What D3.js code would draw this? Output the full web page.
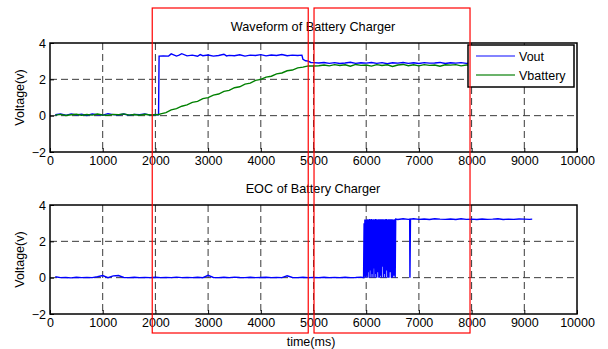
<!DOCTYPE html>
<html>
<head>
<meta charset="utf-8">
<script src="https://cdn.jsdelivr.net/npm/d3@7/dist/d3.min.js"></script>
<style>
  body { margin: 0; background: #fff; }
  svg { display: block; font-family: "Liberation Sans", Arial, sans-serif; }
  .tick text { font-size: 12.5px; fill: #000; }
</style>
</head>
<body>
<div id="chart"></div>
<script>
// ---- data ----
var xTicks = [0, 1000, 2000, 3000, 4000, 5000, 6000, 7000, 8000, 9000, 10000];
var yTicks = [-2, 0, 2, 4];

// top panel: Vout
var voutT = [100,200,300,400,500,600,700,800,900,1000,1100,1200,1300,1400,1500,1600,1700,1800,1900,2000,2060,
  2070,2150,2250,2300,2400,2450,2500,2600,2700,2800,2850,2900,3000,3100,3200,3300,3350,3400,3500,3600,3700,3800,3900,4000,4100,4200,4300,4400,4500,4600,4700,4780,
  4800,4850,4900,4950,5000,5100,5200,5300,5400,5500,5600,5700,5800,5900,6000,6100,6200,6300,6400,6500,6600,6700,6800,6900,7000,7100,7200,7300,7400,7500,7600,7700,7800,7900,8000];
var voutV = [0.05,0.09,0.02,0.10,0.04,0.08,0.01,0.09,0.05,0.03,0.11,0.06,0.04,0.09,0.02,0.07,0.05,0.10,0.03,0.06,0.05,
  3.28,3.29,3.28,3.40,3.28,3.33,3.41,3.29,3.33,3.27,3.36,3.30,3.34,3.28,3.31,3.38,3.29,3.32,3.30,3.35,3.28,3.33,3.31,3.36,3.29,3.34,3.31,3.37,3.30,3.33,3.31,3.33,
  3.10,3.02,3.00,2.93,2.92,2.90,2.93,2.88,2.92,2.87,2.90,2.94,2.88,2.91,2.89,2.93,2.88,2.92,2.86,2.91,2.89,2.93,2.88,2.91,2.87,2.92,2.89,2.90,2.93,2.87,2.91,2.89,2.92,2.88,2.90,2.87];

// top panel: Vbattery
var vbatT = [100,200,300,400,500,600,700,800,900,1000,1100,1200,1300,1400,1500,1600,1700,1800,1900,2000,2050,
  2100,2200,2300,2400,2500,2600,2700,2800,2900,3000,3100,3200,3300,3400,3500,3600,3700,3800,3900,4000,4100,4200,4300,4400,4500,4600,4700,4800,4900,
  5000,5100,5200,5300,5400,5500,5600,5700,5800,5900,6000,6100,6200,6300,6400,6500,6600,6700,6800,6900,7000,7100,7200,7300,7400,7500,7600,7700,7800,7900,8000];
var vbatV = [0.03,0.07,0.01,0.05,0.08,0.02,0.06,0.03,0.09,0.04,0.02,0.07,0.05,0.10,0.03,0.06,0.02,0.08,0.04,0.05,0.05,
  0.10,0.17,0.32,0.39,0.52,0.59,0.73,0.79,0.94,0.99,1.13,1.19,1.34,1.39,1.54,1.59,1.74,1.79,1.94,2.00,2.12,2.17,2.30,2.35,2.47,2.51,2.63,2.67,2.74,
  2.73,2.75,2.79,2.74,2.81,2.76,2.80,2.72,2.82,2.77,2.79,2.73,2.81,2.76,2.80,2.71,2.79,2.82,2.75,2.80,2.74,2.81,2.77,2.79,2.72,2.80,2.78,2.81,2.74,2.79,2.78];

// bottom panel: EOC
var eocT = [100,200,300,400,500,600,700,800,900,1000,1100,1200,1300,1400,1500,1600,1700,1800,1900,2000,
  2100,2200,2300,2400,2500,2600,2700,2800,2900,3000,3100,3200,3300,3400,3500,3600,3700,3800,3900,4000,
  4100,4200,4300,4400,4500,4600,4700,4800,4900,5000,5100,5200,5300,5400,5500,5600,5700,5800,5900,5950,
  5960,5966,5975,5985,5995,6005,6012,6020,6030,6040,6048,6056,6065,6075,6085,6092,6100,6110,6120,6130,6138,6146,
  6155,6165,6175,6183,6192,6200,6210,6220,6230,6240,6248,6256,6265,6275,6285,6293,6302,6312,6322,6332,6340,6350,
  6360,6370,6380,6390,6400,6410,6420,6432,6444,6455,6466,6478,6490,6502,6514,6526,6538,6550,6560,
  6600,6700,6800,6825,6830,6840,6900,7000,7100,7200,7300,7400,7500,7600,7700,7800,7900,8000,8100,8200,8300,8400,
  8500,8600,8700,8800,8900,9000,9100,9150];
var eocV = [0.05,0.00,0.01,-0.01,0.02,0.00,0.01,0.00,0.05,0.12,0.00,0.10,0.12,0.01,0.00,0.02,0.00,0.01,0.00,0.02,
  0.00,0.01,0.00,0.03,0.00,0.01,0.00,0.02,0.00,0.13,0.01,0.00,0.02,0.00,0.03,0.01,0.00,0.02,0.00,0.01,
  0.02,0.00,0.01,0.00,0.10,0.01,0.00,0.02,0.00,0.01,0.00,0.02,0.00,0.01,0.00,0.02,0.00,0.01,0.03,0.00,
  3.00,0.05,3.20,0.00,3.20,0.10,3.20,0.00,3.22,0.30,3.20,0.00,3.23,0.40,3.20,0.00,3.23,0.20,3.20,0.00,3.22,0.50,
  3.20,0.00,3.23,0.20,3.22,0.00,3.20,0.30,3.22,0.00,3.22,0.00,3.22,0.10,3.21,0.00,3.22,0.60,3.22,0.00,3.20,0.20,
  3.22,0.00,3.23,0.40,3.20,0.00,3.22,0.00,3.21,0.30,3.22,0.00,3.22,0.00,3.20,0.10,3.22,0.00,3.22,
  3.20,3.24,3.21,3.22,0.00,3.22,3.24,3.21,3.23,3.20,3.24,3.22,3.21,3.23,3.20,3.24,3.21,3.22,3.20,3.23,3.21,3.22,
  3.24,3.20,3.22,3.21,3.23,3.22,3.21,3.22];

// red highlight boxes (time ranges)
var boxStart = [1940, 5010];
var boxEnd = [4900, 7970];

// ---- layout ----
var W = 608, H = 349;
var left = 50, right = 577;
var panels = [
  { top: 43, bottom: 152, title: "Waveform of Battery Charger" },
  { top: 205, bottom: 314, title: "EOC of Battery Charger" }
];

var svg = d3.select("#chart").append("svg")
  .attr("width", W).attr("height", H);

var x = d3.scaleLinear().domain([0, 10000]).range([left, right]);

function drawPanel(p) {
  var y = d3.scaleLinear().domain([-2, 4]).range([p.bottom, p.top]);
  var g = svg.append("g");

  // grid
  g.selectAll(".vgrid").data(xTicks.slice(1, -1)).enter().append("line")
    .attr("x1", function(d){ return x(d); }).attr("x2", function(d){ return x(d); })
    .attr("y1", p.top).attr("y2", p.bottom)
    .attr("stroke", "#3a3a3a").attr("stroke-width", 1).attr("stroke-dasharray", "7,4");
  g.selectAll(".hgrid").data(yTicks.slice(1, -1)).enter().append("line")
    .attr("x1", left).attr("x2", right)
    .attr("y1", function(d){ return y(d); }).attr("y2", function(d){ return y(d); })
    .attr("stroke", "#3a3a3a").attr("stroke-width", 1).attr("stroke-dasharray", "7,4");

  // axes
  var xa = g.append("g").attr("transform", "translate(0," + p.bottom + ")")
    .call(d3.axisBottom(x).tickValues(xTicks).tickSize(-4).tickPadding(4).tickFormat(d3.format("d")));
  var ya = g.append("g").attr("transform", "translate(" + left + ",0)")
    .call(d3.axisLeft(y).tickValues(yTicks).tickSize(-4).tickPadding(4).tickFormat(d3.format("d")));
  [xa, ya].forEach(function(a){
    a.select(".domain").remove();
    a.selectAll(".tick line").attr("stroke", "#000");
  });

  g.append("text").attr("x", 313).attr("y", p.top - 12)
    .attr("text-anchor", "middle").attr("font-size", "12.7px").text(p.title);
  g.append("text")
    .attr("transform", "translate(20," + ((p.top + p.bottom) / 2) + ") rotate(-90)")
    .attr("text-anchor", "middle").attr("dy", "0.35em").attr("font-size", "12.5px").text("Voltage(v)");
  return { g: g, y: y };
}

var top1 = drawPanel(panels[0]);
var bot1 = drawPanel(panels[1]);

function addLine(panel, ts, vs, color, w) {
  var pts = ts.map(function(t, i){ return [t, vs[i]]; });
  panel.g.append("path").datum(pts)
    .attr("fill", "none").attr("stroke", color).attr("stroke-width", w)
    .attr("d", d3.line().x(function(d){ return x(d[0]); }).y(function(d){ return panel.y(d[1]); }));
}
addLine(top1, voutT, voutV, "#0000ff", 1.4);
addLine(top1, vbatT, vbatV, "#008000", 1.4);
addLine(bot1, eocT, eocV, "#0000ff", 1.4);

// frames
panels.forEach(function(p){
  svg.append("rect").attr("x", left).attr("y", p.top)
    .attr("width", right - left).attr("height", p.bottom - p.top)
    .attr("fill", "none").attr("stroke", "#000").attr("stroke-width", 1.5);
});

svg.append("text").attr("x", 311).attr("y", 346)
  .attr("text-anchor", "middle").attr("font-size", "12.5px").text("time(ms)");

// legend
var lg = svg.append("g").attr("transform", "translate(468,45)");
lg.append("rect").attr("width", 106).attr("height", 42)
  .attr("fill", "#fff").attr("stroke", "#000").attr("stroke-width", 1.5);
[["Vout", "#5a5aff"], ["Vbattery", "#3a9a3a"]].forEach(function(s, i){
  var yy = 11 + i * 19;
  lg.append("line").attr("x1", 8).attr("x2", 47).attr("y1", yy).attr("y2", yy)
    .attr("stroke", s[1]).attr("stroke-width", 1.4);
  lg.append("text").attr("x", 51).attr("y", yy + 4.5).attr("font-size", "12.5px").text(s[0]);
});

// red annotation boxes
boxStart.forEach(function(b, i){
  svg.append("rect").attr("x", x(b)).attr("y", 8)
    .attr("width", x(boxEnd[i]) - x(b)).attr("height", 325)
    .attr("fill", "none").attr("stroke", "#ff0000").attr("stroke-width", 1.2);
});
</script>
</body>
</html>
